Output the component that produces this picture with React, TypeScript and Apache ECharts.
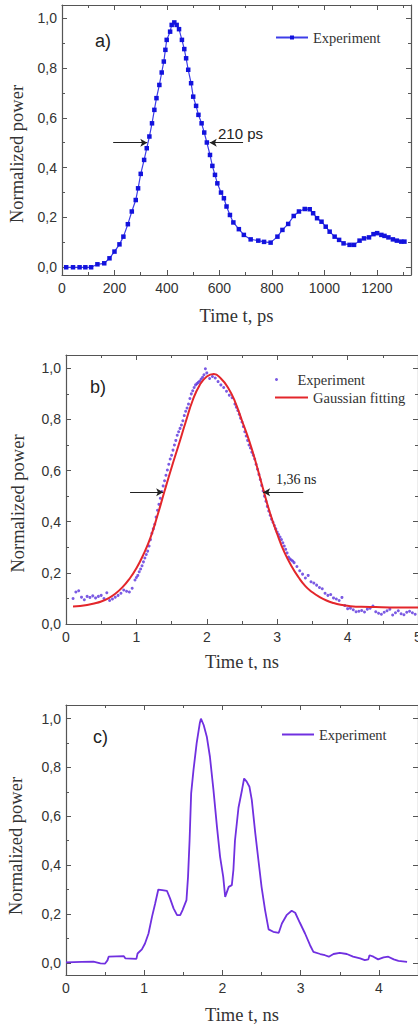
import React, { useEffect, useRef } from "react";
import * as echarts from "echarts";

// ---------- Panel a) ----------
const aTime = [16, 42, 67, 89, 111, 135, 161, 181, 200, 219, 234, 251, 266, 281, 290, 300, 313, 323, 333, 343, 352, 360, 371, 380, 388, 394, 399, 412, 418, 428, 437, 446, 457, 466, 473, 481, 492, 500, 511, 520, 532, 542, 552, 564, 573, 583, 592, 606, 617, 627, 640, 653, 674, 693, 719, 748, 770, 795, 821, 840, 862, 883, 903, 925, 944, 957, 972, 989, 1005, 1020, 1039, 1056, 1073, 1096, 1113, 1134, 1151, 1170, 1187, 1201, 1217, 1229, 1244, 1261, 1276, 1293, 1305];
const aPower = [0.0, 0.0, 0.0, 0.0, 0.0, 0.012, 0.016, 0.036, 0.063, 0.092, 0.123, 0.173, 0.224, 0.27, 0.317, 0.375, 0.431, 0.478, 0.525, 0.578, 0.632, 0.679, 0.732, 0.782, 0.826, 0.873, 0.913, 0.946, 0.973, 0.983, 0.973, 0.956, 0.913, 0.876, 0.839, 0.793, 0.739, 0.685, 0.648, 0.612, 0.578, 0.541, 0.501, 0.451, 0.407, 0.371, 0.337, 0.3, 0.277, 0.244, 0.21, 0.18, 0.153, 0.13, 0.112, 0.107, 0.102, 0.099, 0.123, 0.15, 0.174, 0.206, 0.224, 0.234, 0.233, 0.217, 0.197, 0.183, 0.163, 0.143, 0.123, 0.11, 0.096, 0.09, 0.09, 0.107, 0.116, 0.12, 0.133, 0.137, 0.13, 0.126, 0.12, 0.112, 0.107, 0.103, 0.103];
const aArrowY = 0.5;
const aArrowLeft = [195, 325];
const aArrowRight = [690, 563];

// ---------- Panel b) ----------
const bExpTime = [0.10, 0.14, 0.18, 0.22, 0.26, 0.30, 0.34, 0.38, 0.42, 0.46, 0.50, 0.54, 0.58, 0.62, 0.66, 0.70, 0.74, 0.78, 0.82, 0.86, 0.90, 0.94, 0.98, 1.00, 1.02, 1.04, 1.06, 1.08, 1.10, 1.12, 1.14, 1.16, 1.18, 1.20, 1.22, 1.24, 1.26, 1.28, 1.30, 1.32, 1.34, 1.36, 1.38, 1.40, 1.42, 1.44, 1.46, 1.48, 1.50, 1.52, 1.54, 1.56, 1.58, 1.60, 1.62, 1.64, 1.66, 1.68, 1.70, 1.72, 1.74, 1.76, 1.78, 1.80, 1.82, 1.84, 1.86, 1.88, 1.90, 1.92, 1.94, 1.96, 1.98, 2.00, 2.04, 2.08, 2.12, 2.16, 2.20, 2.24, 2.28, 2.32, 2.36, 2.40, 2.42, 2.44, 2.46, 2.48, 2.50, 2.52, 2.54, 2.56, 2.58, 2.60, 2.62, 2.64, 2.66, 2.68, 2.70, 2.72, 2.74, 2.76, 2.78, 2.80, 2.82, 2.84, 2.86, 2.88, 2.90, 2.92, 2.94, 2.96, 2.98, 3.00, 3.02, 3.04, 3.06, 3.08, 3.10, 3.12, 3.14, 3.16, 3.18, 3.20, 3.22, 3.24, 3.28, 3.32, 3.36, 3.40, 3.44, 3.48, 3.52, 3.56, 3.60, 3.64, 3.68, 3.72, 3.76, 3.80, 3.84, 3.88, 3.92, 3.96, 4.00, 4.04, 4.08, 4.12, 4.16, 4.20, 4.24, 4.28, 4.32, 4.36, 4.40, 4.44, 4.48, 4.52, 4.56, 4.60, 4.64, 4.68, 4.72, 4.76, 4.80, 4.84, 4.88, 4.92, 4.96];
const bExpPower = [0.100, 0.125, 0.130, 0.105, 0.095, 0.108, 0.104, 0.110, 0.102, 0.108, 0.112, 0.100, 0.122, 0.092, 0.098, 0.105, 0.112, 0.120, 0.133, 0.128, 0.125, 0.140, 0.172, 0.182, 0.190, 0.204, 0.215, 0.228, 0.243, 0.258, 0.272, 0.285, 0.305, 0.330, 0.355, 0.372, 0.390, 0.418, 0.445, 0.468, 0.492, 0.518, 0.540, 0.560, 0.582, 0.602, 0.625, 0.645, 0.660, 0.680, 0.700, 0.718, 0.738, 0.752, 0.765, 0.778, 0.795, 0.815, 0.832, 0.845, 0.860, 0.882, 0.900, 0.912, 0.925, 0.935, 0.940, 0.945, 0.950, 0.958, 0.965, 0.975, 0.998, 0.982, 0.960, 0.968, 0.962, 0.948, 0.935, 0.925, 0.910, 0.895, 0.885, 0.860, 0.848, 0.835, 0.820, 0.805, 0.790, 0.772, 0.752, 0.735, 0.718, 0.700, 0.688, 0.672, 0.660, 0.645, 0.625, 0.605, 0.585, 0.565, 0.542, 0.520, 0.500, 0.480, 0.460, 0.442, 0.425, 0.410, 0.398, 0.385, 0.372, 0.360, 0.350, 0.340, 0.330, 0.318, 0.305, 0.292, 0.278, 0.262, 0.255, 0.250, 0.246, 0.240, 0.225, 0.208, 0.195, 0.180, 0.190, 0.165, 0.160, 0.152, 0.143, 0.138, 0.120, 0.112, 0.115, 0.102, 0.098, 0.092, 0.104, 0.072, 0.060, 0.062, 0.056, 0.048, 0.050, 0.053, 0.047, 0.058, 0.062, 0.070, 0.048, 0.042, 0.038, 0.046, 0.052, 0.058, 0.035, 0.044, 0.052, 0.040, 0.036, 0.046, 0.050, 0.044, 0.038];
const bFitTime = [0.1, 0.2, 0.3, 0.4, 0.5, 0.6, 0.7, 0.8, 0.9, 1.0, 1.1, 1.2, 1.3, 1.4, 1.5, 1.6, 1.7, 1.8, 1.9, 2.0, 2.1, 2.2, 2.3, 2.4, 2.5, 2.6, 2.7, 2.8, 2.9, 3.0, 3.1, 3.2, 3.3, 3.4, 3.5, 3.6, 3.7, 3.8, 3.9, 4.0, 4.2, 4.4, 4.6, 4.8, 5.0];
const bFitPower = [0.068, 0.070, 0.074, 0.080, 0.088, 0.100, 0.118, 0.143, 0.176, 0.218, 0.272, 0.338, 0.425, 0.520, 0.612, 0.700, 0.790, 0.875, 0.935, 0.968, 0.978, 0.960, 0.925, 0.870, 0.795, 0.718, 0.628, 0.528, 0.432, 0.352, 0.282, 0.228, 0.184, 0.148, 0.124, 0.106, 0.092, 0.082, 0.075, 0.071, 0.067, 0.066, 0.065, 0.065, 0.065];
const bArrowY = 0.515;
const bArrowLeft = [0.91, 1.38];
const bArrowRight = [3.37, 2.8];

// ---------- Panel c) ----------
const cTime = [0.0, 0.2, 0.35, 0.44, 0.5, 0.53, 0.545, 0.74, 0.76, 0.9, 0.915, 0.97, 1.01, 1.055, 1.1, 1.14, 1.18, 1.23, 1.29, 1.33, 1.375, 1.42, 1.46, 1.49, 1.54, 1.56, 1.58, 1.6, 1.63, 1.67, 1.71, 1.725, 1.76, 1.8, 1.84, 1.885, 1.93, 1.97, 2.01, 2.035, 2.08, 2.12, 2.14, 2.16, 2.205, 2.25, 2.277, 2.31, 2.345, 2.375, 2.42, 2.46, 2.5, 2.545, 2.59, 2.65, 2.72, 2.76, 2.82, 2.885, 2.93, 2.99, 3.056, 3.12, 3.163, 3.25, 3.31, 3.36, 3.42, 3.5, 3.59, 3.67, 3.76, 3.82, 3.865, 3.88, 3.93, 3.99, 4.06, 4.12, 4.19, 4.25, 4.36];
const cPower = [0.002, 0.004, 0.005, -0.002, -0.003, 0.01, 0.025, 0.027, 0.018, 0.016, 0.038, 0.055, 0.079, 0.12, 0.189, 0.243, 0.3, 0.298, 0.295, 0.264, 0.223, 0.195, 0.195, 0.216, 0.257, 0.352, 0.503, 0.694, 0.79, 0.899, 0.981, 1.0, 0.974, 0.926, 0.844, 0.708, 0.557, 0.434, 0.352, 0.27, 0.311, 0.318, 0.38, 0.5, 0.635, 0.708, 0.755, 0.742, 0.721, 0.667, 0.53, 0.42, 0.311, 0.216, 0.137, 0.127, 0.123, 0.161, 0.195, 0.213, 0.205, 0.164, 0.12, 0.072, 0.045, 0.036, 0.031, 0.025, 0.036, 0.041, 0.036, 0.025, 0.018, 0.011, 0.014, 0.031, 0.025, 0.014, 0.022, 0.025, 0.014, 0.008, 0.004];

const pairs = (xs: number[], ys: number[]) => xs.map((x, i) => [x, ys[i]]);

const AXIS = "#555";
const LABEL = "#333";
const SANS = "'Liberation Sans', Arial, sans-serif";
const SERIF = "'Liberation Serif', 'Times New Roman', serif";

const fmtY = (v: number) => {
  const r = Math.round(v / 0.2);
  return Math.abs(v - r * 0.2) < 1e-6 ? (r * 0.2).toFixed(1).replace(".", ",") : "";
};
const fmtStep = (step: number) => (v: number) => {
  const r = Math.round(v / step);
  return Math.abs(v - r * step) < 1e-6 ? String(Math.round(r * step * 1000) / 1000) : "";
};

function axisCommon(extra: any) {
  return {
    type: "value",
    ...extra,
    axisLine: { show: true, onZero: false, lineStyle: { color: AXIS, width: 1.2 } },
    axisTick: { show: true, inside: true, length: 5, lineStyle: { color: AXIS } },
    minorTick: { show: true, splitNumber: 2, length: 3, lineStyle: { color: AXIS } },
    splitLine: { show: false },
    minorSplitLine: { show: false },
  };
}

function makeX(extra: any, name: string, gap: number, fmt: (v: number) => string) {
  return [
    {
      ...axisCommon(extra),
      position: "bottom",
      name,
      nameLocation: "middle",
      nameGap: gap,
      nameTextStyle: { fontFamily: SERIF, fontSize: 18.5, color: LABEL },
      axisLabel: { show: true, margin: 6, fontFamily: SANS, fontSize: 14, color: LABEL, formatter: fmt },
    },
    { ...axisCommon(extra), position: "top", axisLabel: { show: false } },
  ];
}

function makeY(extra: any, name: string, gap: number, shiftDown: number) {
  return [
    {
      ...axisCommon(extra),
      position: "left",
      name,
      nameLocation: "middle",
      nameGap: gap,
      nameTextStyle: { fontFamily: SERIF, fontSize: 18.5, color: LABEL, padding: [0, shiftDown * 2, 0, 0] },
      axisLabel: { show: true, margin: 5, fontFamily: SANS, fontSize: 14, color: LABEL, formatter: fmtY },
    },
    { ...axisCommon(extra), position: "right", axisLabel: { show: false } },
  ];
}

const arrowMark = (y: number, left: number[], right: number[]) => ({
  silent: true,
  animation: false,
  symbol: ["none", "arrow"],
  symbolSize: [6, 7],
  lineStyle: { color: "#222", width: 1, type: "solid" },
  label: { show: false },
  emphasis: { disabled: true },
  data: [
    [{ coord: [left[0], y] }, { coord: [left[1], y] }],
    [{ coord: [right[0], y] }, { coord: [right[1], y] }],
  ],
});

const legendText = { fontFamily: SERIF, fontSize: 14.5, color: LABEL };
const annot = (text: string, left: number, top: number, font: string, size: number) => ({
  type: "text",
  left,
  top,
  silent: true,
  style: { text, fontFamily: font, fontSize: size, fill: "#222" },
});

const optionA = {
  animation: false,
  grid: { left: 62, top: 5, width: 349, height: 270, outerBoundsMode: "none", containLabel: false },
  xAxis: makeX({ min: 0, max: 1330, splitNumber: 7 }, "Time t, ps", 31, fmtStep(200)),
  yAxis: makeY({ min: -0.031, max: 1.053, splitNumber: 5 }, "Normalized power", 35, 14),
  legend: {
    left: 275, top: 30, padding: 0, itemWidth: 32, itemHeight: 5, selectedMode: false,
    textStyle: legendText, data: ["Experiment"],
  },
  graphic: [
    annot("a)", 95, 32, SANS, 18),
    annot("210 ps", 218, 126, SANS, 15),
  ],
  series: [
    {
      type: "line",
      name: "Experiment",
      data: pairs(aTime, aPower),
      symbol: "rect",
      symbolSize: 4.5,
      itemStyle: { color: "#1212dd" },
      lineStyle: { color: "#3d3de8", width: 1.2 },
      markLine: arrowMark(aArrowY, aArrowLeft, aArrowRight),
    },
  ],
};

const optionB = {
  animation: false,
  grid: { left: 66, top: 25, width: 352, height: 269, outerBoundsMode: "none", containLabel: false },
  xAxis: makeX({ min: 0, max: 5, interval: 1 }, "Time t, ns", 28, fmtStep(1)),
  yAxis: makeY({ min: 0, max: 1.052, splitNumber: 5 }, "Normalized power", 39, 14),
  legend: [
    {
      left: 275, top: 42, padding: 0, itemWidth: 32, itemHeight: 3, selectedMode: false,
      textStyle: legendText, data: [{ name: "Experiment", icon: "circle" }],
    },
    {
      left: 275, top: 60, padding: 0, itemWidth: 33, itemHeight: 2, selectedMode: false,
      textStyle: legendText, data: [{ name: "Gaussian fitting", icon: "rect" }],
    },
  ],
  graphic: [
    annot("b)", 90, 48, SANS, 18),
    annot("1,36 ns", 276, 142, SERIF, 14),
  ],
  series: [
    {
      type: "scatter",
      name: "Experiment",
      data: pairs(bExpTime, bExpPower),
      symbol: "circle",
      symbolSize: 3,
      itemStyle: { color: "#5a32dc" },
    },
    {
      type: "line",
      name: "Gaussian fitting",
      data: pairs(bFitTime, bFitPower),
      smooth: true,
      symbol: "none",
      itemStyle: { color: "#e3262b" },
      lineStyle: { color: "#e3262b", width: 2 },
      markLine: arrowMark(bArrowY, bArrowLeft, bArrowRight),
    },
  ],
};

const optionC = {
  animation: false,
  grid: { left: 66, top: 35, width: 352, height: 270, outerBoundsMode: "none", containLabel: false },
  xAxis: makeX({ min: 0, max: 4.5, interval: 1 }, "Time t, ns", 30, fmtStep(1)),
  yAxis: makeY({ min: -0.05, max: 1.056, splitNumber: 5 }, "Normalized power", 41, 6),
  legend: {
    left: 282, top: 57, padding: 0, itemWidth: 32, itemHeight: 2, selectedMode: false,
    textStyle: legendText, data: [{ name: "Experiment", icon: "rect" }],
  },
  graphic: [annot("c)", 93, 58, SANS, 18)],
  series: [
    {
      type: "line",
      name: "Experiment",
      data: pairs(cTime, cPower),
      symbol: "none",
      itemStyle: { color: "#7030e0" },
      lineStyle: { color: "#7030e0", width: 1.8 },
    },
  ],
};

function Panel({ option, top, height }: { option: any; top: number; height: number }) {
  const ref = useRef<HTMLDivElement>(null);
  useEffect(() => {
    const chart = echarts.init(ref.current!, null, { renderer: "svg" });
    chart.setOption(option);
    return () => chart.dispose();
  }, [option]);
  return <div ref={ref} style={{ position: "absolute", left: 0, top, width: 418, height }} />;
}

export default function App() {
  useEffect(() => {
    document.body.style.margin = "0";
  }, []);
  return (
    <div style={{ position: "absolute", left: 0, top: 0, width: 418, height: 1025, background: "#fff", overflow: "hidden" }}>
      <Panel option={optionA} top={0} height={330} />
      <Panel option={optionB} top={330} height={340} />
      <Panel option={optionC} top={670} height={355} />
    </div>
  );
}
